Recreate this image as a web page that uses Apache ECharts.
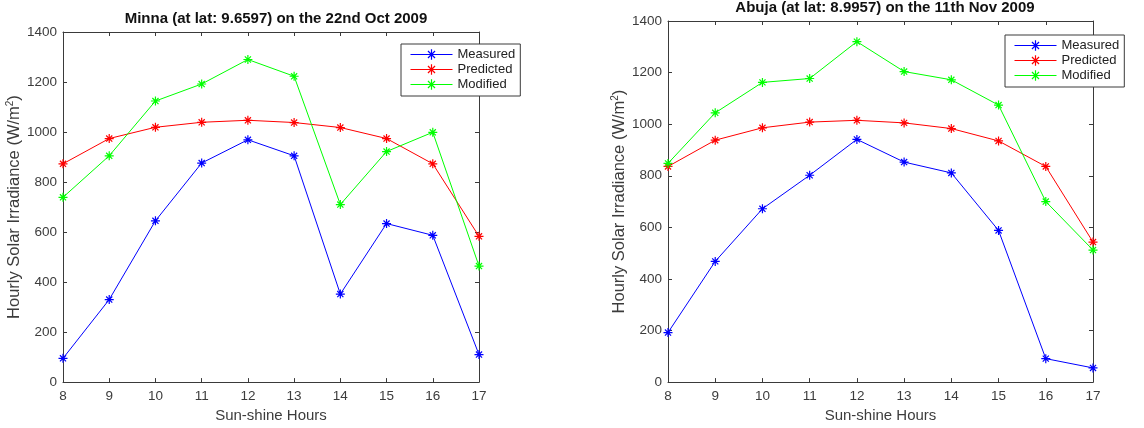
<!DOCTYPE html>
<html>
<head>
<meta charset="utf-8">
<script src="https://cdn.jsdelivr.net/npm/echarts@6/dist/echarts.min.js"></script>
<style>
  html, body { margin: 0; padding: 0; background: #fff; }
  #chart { width: 1144px; height: 428px; }
</style>
</head>
<body>
<div id="chart"></div>
<script>
// Sun-shine hours on the horizontal axis
const hours = [8, 9, 10, 11, 12, 13, 14, 15, 16, 17];

// Minna, 22nd Oct 2009 — hourly solar irradiance (W/m²)
const minnaMeasured  = [95, 330, 645, 876, 969, 905, 352, 634, 587, 110];
const minnaPredicted = [873, 974, 1019, 1039, 1047, 1038, 1018, 974, 873, 583];
const minnaModified  = [739, 905, 1124, 1192, 1290, 1223, 710, 922, 999, 464];

// Abuja, 11th Nov 2009 — hourly solar irradiance (W/m²)
const abujaMeasured  = [192, 468, 672, 802, 941, 853, 811, 588, 91, 55];
const abujaPredicted = [836, 938, 986, 1008, 1015, 1005, 983, 935, 836, 543];
const abujaModified  = [848, 1044, 1162, 1177, 1320, 1204, 1172, 1074, 700, 512];

const titles = [
  'Minna (at lat: 9.6597) on the 22nd Oct 2009',
  'Abuja (at lat: 8.9957) on the 11th Nov 2009'
];
const seriesNames = ['Measured', 'Predicted', 'Modified'];
const yTicks = { min: 0, max: 1400, interval: 200 };

const COLORS = ['#0000ff', '#ff0000', '#00ff00'];
const FONT = '"Liberation Sans", Arial, sans-serif';
const AXIS_COLOR = '#3a3a3a';
const TEXT_COLOR = '#3c3c3c';
// eight-armed asterisk marker, stroked only
const STAR = 'path://M5 0L5 10M0 5L10 5M1.6 1.6L8.4 8.4M1.6 8.4L8.4 1.6';

const pairs = (vals) => hours.map((h, i) => [h, vals[i]]);

const grids = [
  { left: 63, right: 665, top: 32, bottom: 43 },
  { left: 668, right: 51, top: 21, bottom: 44 }
];
const yNameGaps = [36, 33];

function xAxes(gridIndex) {
  const base = {
    type: 'value', gridIndex, min: 8, max: 17, interval: 1,
    axisLine: { show: true, onZero: false, lineStyle: { color: AXIS_COLOR, width: 1 } },
    axisTick: { show: true, inside: true, length: 4, lineStyle: { color: AXIS_COLOR } },
    splitLine: { show: false }
  };
  return [
    Object.assign({}, base, {
      position: 'bottom',
      name: 'Sun-shine Hours', nameLocation: 'middle', nameGap: 21,
      nameTextStyle: { fontFamily: FONT, fontSize: 15, color: TEXT_COLOR },
      axisLabel: { fontFamily: FONT, fontSize: 13.5, color: TEXT_COLOR, margin: 7 }
    }),
    Object.assign({}, base, { position: 'top', axisLabel: { show: false } })
  ];
}

function yAxes(gridIndex) {
  const base = {
    type: 'value', gridIndex, min: yTicks.min, max: yTicks.max, interval: yTicks.interval,
    axisLine: { show: true, onZero: false, lineStyle: { color: AXIS_COLOR, width: 1 } },
    axisTick: { show: true, inside: true, length: 4, lineStyle: { color: AXIS_COLOR } },
    splitLine: { show: false }
  };
  return [
    Object.assign({}, base, {
      position: 'left',
      name: 'Hourly Solar Irradiance (W/m{sup|2})', nameLocation: 'middle',
      nameGap: yNameGaps[gridIndex],
      nameRotate: 90,
      nameTextStyle: {
        fontFamily: FONT, fontSize: 16.5, color: TEXT_COLOR,
        rich: { sup: { fontFamily: FONT, fontSize: 10, color: TEXT_COLOR, verticalAlign: 'top', padding: [0, 0, 8, 0] } }
      },
      axisLabel: {
        fontFamily: FONT, fontSize: 13.5, color: TEXT_COLOR, margin: 6,
        formatter: (v) => String(v)
      }
    }),
    Object.assign({}, base, { position: 'right', axisLabel: { show: false } })
  ];
}

function lineSeries(gridIndex, datasets) {
  return datasets.map((vals, k) => ({
    name: seriesNames[k],
    type: 'line',
    xAxisIndex: gridIndex * 2,
    yAxisIndex: gridIndex * 2,
    data: pairs(vals),
    symbol: STAR,
    symbolSize: 9,
    showAllSymbol: true,
    lineStyle: { color: COLORS[k], width: 1 },
    itemStyle: { color: 'rgba(0,0,0,0)', borderColor: COLORS[k], borderWidth: 1.2 },
    emphasis: { disabled: true },
    animation: false
  }));
}

function legendAt(pos) {
  return Object.assign({
    orient: 'vertical',
    data: seriesNames.map((name, k) => ({
      name,
      lineStyle: { color: COLORS[k], width: 1 },
      itemStyle: { color: 'rgba(0,0,0,0)', borderColor: COLORS[k], borderWidth: 1.2 }
    })),
    backgroundColor: '#fff',
    borderColor: '#3a3a3a',
    borderWidth: 1,
    borderRadius: 0,
    padding: [4, 5, 5, 9],
    itemGap: 2,
    itemWidth: 42,
    itemHeight: 13,
    textStyle: { fontFamily: FONT, fontSize: 13, color: '#222' },
    selectedMode: false
  }, pos);
}

const chart = echarts.init(document.getElementById('chart'), null, { renderer: 'canvas' });
chart.setOption({
  backgroundColor: '#fff',
  animation: false,
  title: [
    { text: titles[0], left: 271, top: 6, textAlign: 'center',
      textStyle: { fontFamily: FONT, fontSize: 15, fontWeight: 'bold', color: '#111' } },
    { text: titles[1], left: 880, top: -5, textAlign: 'center',
      textStyle: { fontFamily: FONT, fontSize: 15, fontWeight: 'bold', color: '#111' } }
  ],
  legend: [
    legendAt({ left: 401, top: 44 }),
    legendAt({ left: 1005, top: 35 })
  ],
  grid: grids,
  xAxis: [...xAxes(0), ...xAxes(1)],
  yAxis: [...yAxes(0), ...yAxes(1)],
  series: [
    ...lineSeries(0, [minnaMeasured, minnaPredicted, minnaModified]),
    ...lineSeries(1, [abujaMeasured, abujaPredicted, abujaModified])
  ]
});
</script>
</body>
</html>
